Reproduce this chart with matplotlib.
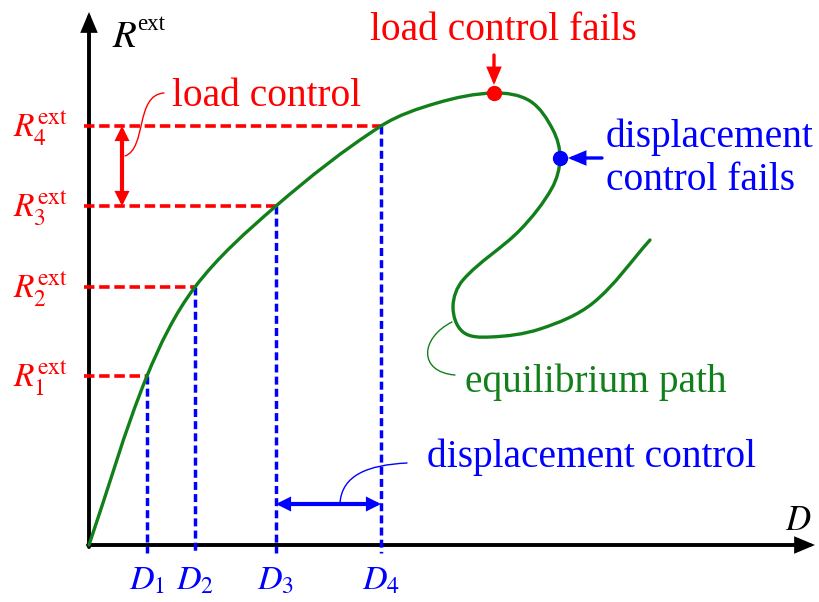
import numpy as np
import matplotlib
matplotlib.use("Agg")
import matplotlib.pyplot as plt
from matplotlib.path import Path
from matplotlib.patches import PathPatch, FancyArrowPatch, ArrowStyle

plt.rcParams["mathtext.fontset"] = "stix"
plt.rcParams["font.family"] = ["Liberation Serif", "DejaVu Serif"]

# ---- equilibrium path (displacement D, external load R) ----
path_D = [0.00, 0.58, 1.06, 1.87, 2.92, 3.48, 4.05, 4.41, 4.64, 4.71, 4.63,
          4.31, 3.74, 3.64, 3.74, 4.01, 4.51, 5.04, 5.61]
path_R = [0.00, 1.69, 2.58, 3.39, 4.19, 4.42, 4.52, 4.44, 4.15, 3.87, 3.57,
          3.15, 2.65, 2.38, 2.13, 2.08, 2.16, 2.42, 3.05]

# load steps and the matching displacements
D_steps = [0.58, 1.06, 1.87, 2.92]
R_steps = [1.69, 2.58, 3.39, 4.19]
D_labels = [r"$D_1$", r"$D_2$", r"$D_3$", r"$D_4$"]
R_labels = [r"$R_1^{\mathrm{ext}}$", r"$R_2^{\mathrm{ext}}$",
            r"$R_3^{\mathrm{ext}}$", r"$R_4^{\mathrm{ext}}$"]

# limit points
load_limit = (4.05, 4.52)
disp_limit = (4.71, 3.87)

RED = "#ff0000"
BLUE = "#0000ff"
GREEN = "#12801a"


def smooth_path(xs, ys):
    """Cubic Bezier path through the given points with chord-direction tangents."""
    pts = np.column_stack([xs, ys]).astype(float)
    n = len(pts)
    tangents = []
    for i in range(n):
        a = pts[max(i - 1, 0)]
        b = pts[min(i + 1, n - 1)]
        t = b - a
        tangents.append(t / np.hypot(*t))
    verts = [pts[0]]
    codes = [Path.MOVETO]
    for i in range(n - 1):
        p1, p2 = pts[i], pts[i + 1]
        h = np.hypot(*(p2 - p1)) / 3.0
        verts += [p1 + tangents[i] * h, p2 - tangents[i + 1] * h, p2]
        codes += [Path.CURVE4] * 3
    return Path(verts, codes)


def bezier(ax, p0, p1, p2, p3, color, lw=1.0):
    path = Path([p0, p1, p2, p3], [Path.MOVETO] + [Path.CURVE4] * 3)
    ax.add_patch(PathPatch(path, fc="none", ec=color, lw=lw, capstyle="round"))


def arrow(ax, start, end, color, style="-|>", lw=2.8, hl=0.8, hw=0.4, scale=10):
    ax.add_patch(FancyArrowPatch(start, end,
                                 arrowstyle=ArrowStyle(style, head_length=hl, head_width=hw),
                                 mutation_scale=scale, color=color, lw=lw,
                                 shrinkA=0, shrinkB=0, joinstyle="miter"))


fig = plt.figure(figsize=(8.2, 6.02), dpi=100)
ax = fig.add_axes([0, 0, 1, 1])
ax.set_xlim(-0.89, 7.31)
ax.set_ylim(-0.57, 5.45)
ax.axis("off")

# axes with arrow heads
arrow(ax, (0, -0.02), (0, 5.33), "black", lw=2.8, hl=1.0, hw=0.42)
arrow(ax, (-0.01, 0), (7.26, 0), "black", lw=2.8, hl=1.0, hw=0.42)

# dashed guide lines for each load step
for d, r in zip(D_steps, R_steps):
    ax.plot([-0.05, d], [r, r], color=RED, lw=2.6,
            linestyle=(0, (2.9, 1.3)), solid_capstyle="butt", zorder=2)
    ax.plot([d, d], [r, -0.08], color=BLUE, lw=2.5,
            linestyle=(0, (2.3, 1.2)), solid_capstyle="butt", zorder=2)

# equilibrium path
ax.add_patch(PathPatch(smooth_path(path_D, path_R), fc="none", ec=GREEN,
                       lw=2.4, zorder=3, capstyle="round"))

# limit points
ax.plot(*load_limit, "o", color=RED, ms=10, zorder=4)
ax.plot(*disp_limit, "o", color=BLUE, ms=10, zorder=4)
arrow(ax, (load_limit[0], 4.90), (load_limit[0], 4.60), RED, lw=2.4, hl=0.9, hw=0.38)
arrow(ax, (5.13, disp_limit[1]), (4.79, disp_limit[1]), BLUE, lw=2.4, hl=0.9, hw=0.38)

# increments: load control / displacement control
arrow(ax, (0.33, R_steps[2]), (0.33, R_steps[3]), RED, style="<|-|>",
      lw=3.0, hl=0.6, hw=0.3)
arrow(ax, (D_steps[2], 0.41), (D_steps[3], 0.41), BLUE, style="<|-|>",
      lw=3.0, hl=0.6, hw=0.3)

# leader curves
bezier(ax, (0.36, 3.89), (0.58, 3.97), (0.46, 4.50), (0.75, 4.52), RED)
bezier(ax, (3.63, 2.23), (3.31, 2.07), (3.29, 1.73), (3.66, 1.70), GREEN)
bezier(ax, (2.51, 0.42), (2.53, 0.70), (2.79, 0.80), (3.18, 0.82), BLUE)

# axis labels
ax.text(0.23, 4.98, r"$R$", fontsize=28, color="black", va="baseline")
ax.text(0.48, 5.15, "ext", fontsize=16.5, color="black", va="baseline")
ax.text(6.96, 0.15, r"$D$", fontsize=25, color="black", va="baseline")

for d, lab in zip(D_steps, D_labels):
    ax.text(d, -0.45, lab, fontsize=24.5, color=BLUE, ha="center", va="baseline")
for r, lab in zip(R_steps, R_labels):
    ax.text(-0.21, r - 0.11, lab, fontsize=24, color=RED, ha="right", va="baseline")

# annotations
fs = 28.4
ax.text(0.83, 4.39, "load control", fontsize=fs, color=RED, va="baseline")
ax.text(2.81, 5.05, "load control fails", fontsize=fs, color=RED, va="baseline")
ax.text(5.17, 3.98, "displacement", fontsize=fs, color=BLUE, va="baseline")
ax.text(5.17, 3.55, "control fails", fontsize=fs, color=BLUE, va="baseline")
ax.text(3.76, 1.53, "equilibrium path", fontsize=fs, color=GREEN, va="baseline")
ax.text(3.38, 0.78, "displacement control", fontsize=fs, color=BLUE, va="baseline")

fig.savefig("out.png", dpi=100)
